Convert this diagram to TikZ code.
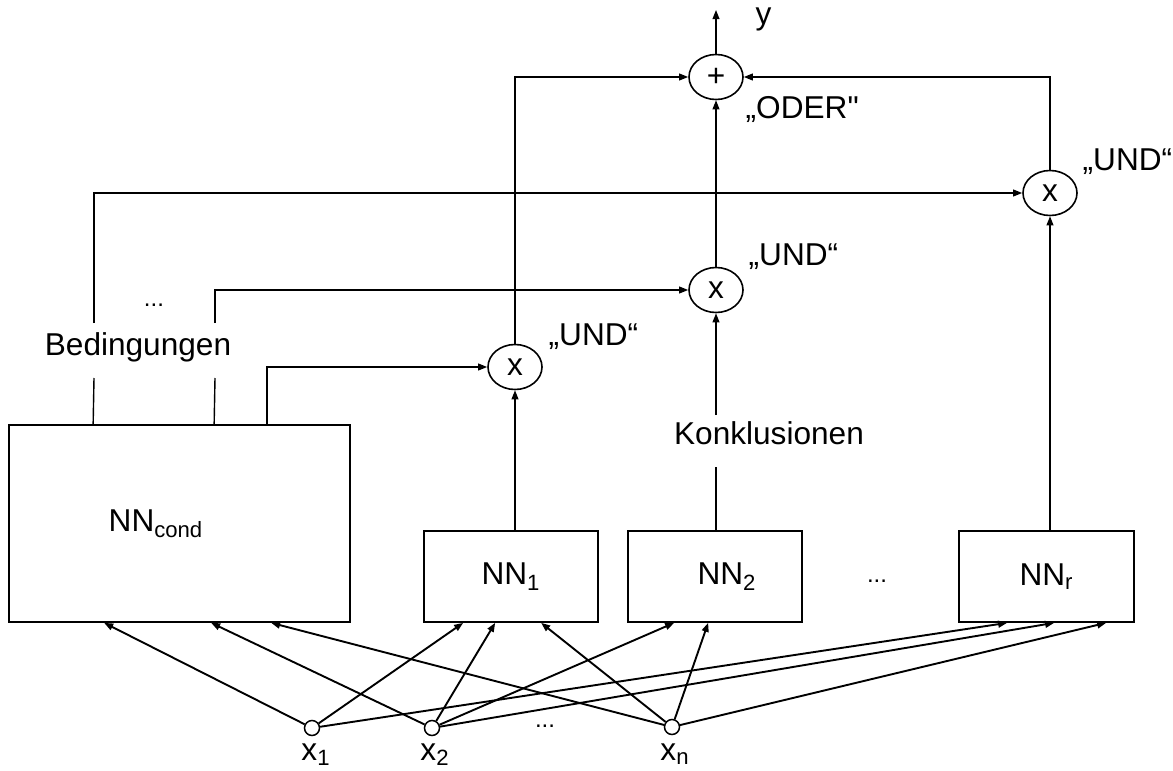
\documentclass[tikz,border=0pt]{standalone}
\usepackage{fontspec}
\setmainfont{Liberation Sans}[Ligatures=TeXOff]
\usetikzlibrary{arrows.meta,shapes.geometric,calc}
\begin{document}
\begin{tikzpicture}[x=0.5pt,y=-0.5pt,
  font=\fontsize{15.8}{19}\selectfont,
  line width=0.7pt,
  >={Triangle[length=4.5pt,width=3.4pt]},
  box/.style={draw,line width=0.85pt,rectangle,inner sep=0pt},
  op/.style={draw,ellipse,line width=0.8pt,minimum width=27pt,minimum height=22.5pt,inner sep=0pt},
  inp/.style={draw,circle,minimum size=7.5pt,inner sep=0pt,line width=0.75pt},
  wire/.style={->,line width=0.95pt},
  conn/.style={->,line width=0.7pt},
  lbl/.style={inner sep=0pt,anchor=base west},
  dotsty/.style={font=\fontsize{12}{14}\selectfont,inner sep=0pt},
]
\useasboundingbox (0,0) rectangle (1173,771);

% boxes
\node[box,minimum width=170.5pt,minimum height=98.5pt] (cond) at (179.5,523.5) {\hspace*{-23.5pt}NN\textsubscript{cond}};
\node[box,minimum width=87pt,minimum height=45.5pt] (nn1) at (511,576.5) {NN\textsubscript{1}};
\node[box,minimum width=87pt,minimum height=45.5pt] (nn2) at (715,576.5) {\hspace*{12pt}NN\textsubscript{2}};
\node[box,minimum width=87.5pt,minimum height=45.5pt] (nnr) at (1046.5,576.5) {NN\textsubscript{r}};

% operators
\node[op] (and1) at (515,367) {x};
\node[op] (and2) at (716,290) {x};
\node[op] (and3) at (1050,193) {x};
\node[op] (or) at (716,77) {+};

% inputs
\node[inp] (x1) at (312,728) {};
\node[inp] (x2) at (432,728) {};
\node[inp] (xn) at (672,727) {};
\node[anchor=base,inner sep=0pt] (lx1) at (316,760) {x\textsubscript{1}};
\node[anchor=base,inner sep=0pt] (lx2) at (435,760) {x\textsubscript{2}};
\node[anchor=base,inner sep=0pt] (lxn) at (675,760) {x\textsubscript{n}};
\node[dotsty] (dx) at (545,726) {...};

% labels
\node[lbl] (land1) at (548,345) {„UND“};
\node[lbl] (land2) at (748,265) {„UND“};
\node[lbl] (land3) at (1082,170) {„UND“};
\node[lbl] (lor) at (745,118) {„ODER"};
\node[lbl] (ly) at (755,25) {y};
\node[inner sep=0pt] (lbed) at (138,347) {Bedingungen};
\node[dotsty] (dbed) at (154,305) {...};
\node[inner sep=0pt] (lkon) at (769,433) {Konklusionen};
\node[dotsty] (dnn) at (877,581) {...};

% coordinates
\coordinate (s1) at ($(cond.north west)+(85,0)$);
\coordinate (s2) at ($(cond.north west)+(206,0)$);
\coordinate (s3) at ($(cond.north west)+(259,0)$);
\coordinate (g1t) at (94,323);
\coordinate (g1b) at (94,378);
\coordinate (g2t) at (215,323);
\coordinate (g2b) at (215,378);
\coordinate (kt) at (716,415);
\coordinate (kb) at (716,467);
\coordinate (yout) at (716,10);

% condition lines
\draw (s1) -- (g1b);
\draw[conn] (g1t) |- (and3.west);
\draw (s2) -- (g2b);
\draw[conn] (g2t) |- (and2.west);
\draw[conn] (s3) |- (and1.west);

% conclusion lines
\draw[conn] (nn1.north -| and1) -- (and1.south);
\draw (nn2.north -| and2) -- (kb);
\draw[conn] (kt) -- (and2.south);
\draw[conn] (nnr.north -| and3) -- (and3.south);

% to OR
\draw[conn] (and2.north) -- (or.south);
\draw[conn] (and1.north) |- (or.west);
\draw[conn] (and3.north) |- (or.east);
\draw[conn] (or.north) -- (yout);

% input wires
\draw[wire] (x1) -- ($(cond.south west)+(96,0)$);
\draw[wire] (x2) -- ($(cond.south west)+(203,0)$);
\draw[wire] (xn) -- ($(cond.south west)+(263,0)$);
\draw[wire] (x1) -- ($(nn1.south west)+(40,0)$);
\draw[wire] (x2) -- ($(nn1.south west)+(72,0)$);
\draw[wire] (xn) -- ($(nn1.south west)+(118,0)$);
\draw[wire] (x2) -- ($(nn2.south west)+(47,0)$);
\draw[wire] (xn) -- ($(nn2.south west)+(81,0)$);
\draw[wire] (x1) -- ($(nnr.south west)+(49,0)$);
\draw[wire] (x2) -- ($(nnr.south west)+(96,0)$);
\draw[wire] (xn) -- ($(nnr.south west)+(148,0)$);
\end{tikzpicture}
\end{document}
